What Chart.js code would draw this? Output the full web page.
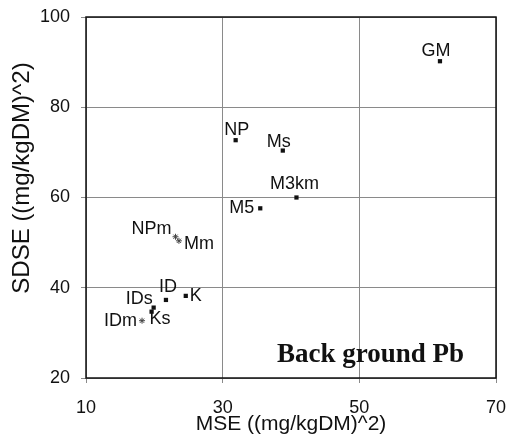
<!DOCTYPE html>
<html lang="en">
<head>
  <meta charset="UTF-8">
  <title>Back ground Pb - SDSE vs MSE</title>
  <script src="https://cdn.jsdelivr.net/npm/chart.js"></script>
  <style>
    html, body { margin: 0; padding: 0; background: #fff; }
    #wrap { width: 509px; height: 443px; }
  </style>
</head>
<body>
<div id="wrap"><canvas id="pbChart"></canvas></div>

<script>
  // point names and their values
  const names = ['GM', 'NP', 'Ms', 'M3km', 'M5', 'NPm', 'Mm', 'ID', 'K', 'IDs', 'Ks', 'IDm'];
  const mseValues = [61.8, 31.9, 38.8, 40.8, 35.5, 23.1, 23.6, 21.7, 24.6, 19.9, 19.6, 18.2];
  const sdseValues = [90.2, 72.7, 70.4, 60.0, 57.6, 51.3, 50.4, 37.3, 38.2, 35.6, 34.7, 32.7];
  const markerKinds = ['rect', 'rect', 'rect', 'rect', 'rect', 'star', 'star', 'rect', 'rect', 'rect', 'rect', 'star'];
  const xTicks = [10, 30, 50, 70];
  const yTicks = [20, 40, 60, 80, 100];
  const xTitle = 'MSE ((mg/kgDM)^2)';
  const yTitle = 'SDSE ((mg/kgDM)^2)';
  const chartNote = 'Back ground Pb';

  // where each label sits relative to its marker (pixels, align)
  const labelPlace = {
    GM:   { dx: -4, dy: -10, align: 'center' },
    NP:   { dx: 1,  dy: -10, align: 'center' },
    Ms:   { dx: -4, dy: -9,  align: 'center' },
    M3km: { dx: -2, dy: -13, align: 'center' },
    M5:   { dx: -6, dy: 0,   align: 'right' },
    NPm:  { dx: -4, dy: -8,  align: 'right' },
    Mm:   { dx: 5,  dy: 3,   align: 'left' },
    ID:   { dx: 2,  dy: -13, align: 'center' },
    K:    { dx: 4,  dy: 0,   align: 'left' },
    IDs:  { dx: -1, dy: -9,  align: 'right' },
    Ks:   { dx: -2, dy: 7,   align: 'left' },
    IDm:  { dx: -5, dy: 0,   align: 'right' }
  };

  function pick(kind) {
    const out = [];
    names.forEach((n, i) => {
      if (markerKinds[i] === kind) out.push({ x: mseValues[i], y: sdseValues[i], name: n });
    });
    return out;
  }

  const pointLabels = {
    id: 'pointLabels',
    afterDatasetsDraw(chart) {
      const { ctx, scales: { x, y } } = chart;
      const a = chart.chartArea;
      ctx.save();
      ctx.fillStyle = '#111';
      ctx.font = '18px "Liberation Sans", Arial, sans-serif';
      ctx.textBaseline = 'middle';
      names.forEach((n, i) => {
        const p = labelPlace[n];
        ctx.textAlign = p.align;
        ctx.fillText(n, x.getPixelForValue(mseValues[i]) + p.dx, y.getPixelForValue(sdseValues[i]) + p.dy);
      });
      // note inside the plot
      ctx.font = 'bold 27px "Liberation Serif", "Times New Roman", serif';
      ctx.textAlign = 'left';
      ctx.textBaseline = 'alphabetic';
      ctx.fillText(chartNote, a.left + 191, a.bottom - 16);
      // frame
      ctx.strokeStyle = '#111';
      ctx.lineWidth = 1.5;
      ctx.strokeRect(a.left, a.top, a.right - a.left, a.bottom - a.top);
      // y title sits a bit above the middle in the original
      ctx.translate(22, a.top + 161);
      ctx.rotate(-Math.PI / 2);
      ctx.font = '24px "Liberation Sans", Arial, sans-serif';
      ctx.textAlign = 'center';
      ctx.textBaseline = 'middle';
      ctx.fillText(yTitle, 0, 0);
      ctx.restore();
    }
  };

  Chart.defaults.font.family = '"Liberation Sans", Arial, sans-serif';
  Chart.defaults.color = '#111';

  const ctx = document.getElementById('pbChart').getContext('2d');
  new Chart(ctx, {
    type: 'scatter',
    data: {
      datasets: [
        {
          label: 'measured',
          data: pick('rect'),
          pointStyle: 'rect',
          pointRadius: 3,
          backgroundColor: '#111',
          borderColor: '#111',
          borderWidth: 0
        },
        {
          label: 'modelled',
          data: pick('star'),
          pointStyle: 'star',
          pointRadius: 3,
          backgroundColor: '#444',
          borderColor: '#444',
          borderWidth: 1
        }
      ]
    },
    options: {
      responsive: true,
      maintainAspectRatio: false,
      animation: false,
      layout: { padding: { top: 17, right: 13, left: 0, bottom: 0 } },
      plugins: {
        legend: { display: false },
        tooltip: { enabled: false }
      },
      scales: {
        x: {
          type: 'linear',
          min: 10,
          max: 70,
          afterBuildTicks: s => { s.ticks = xTicks.map(v => ({ value: v })); },
          afterFit: s => { s.height = 65; s.paddingLeft = 0; s.paddingRight = 0; },
          grid: { color: '#8a8a8a', lineWidth: 1, tickLength: 5 },
          border: { display: false },
          ticks: { font: { size: 18 }, padding: 14, maxRotation: 0 },
          title: {
            display: true,
            text: xTitle,
            font: { size: 21 },
            padding: { top: 0, bottom: 6 }
          }
        },
        y: {
          type: 'linear',
          min: 20,
          max: 100,
          afterBuildTicks: s => { s.ticks = yTicks.map(v => ({ value: v })); },
          afterFit: s => { s.width = 86; s.paddingTop = 0; s.paddingBottom = 0; },
          grid: { color: '#8a8a8a', lineWidth: 1, tickLength: 5 },
          border: { display: false },
          ticks: { font: { size: 18 }, padding: 11 }
        }
      }
    },
    plugins: [pointLabels]
  });
</script>
</body>
</html>
